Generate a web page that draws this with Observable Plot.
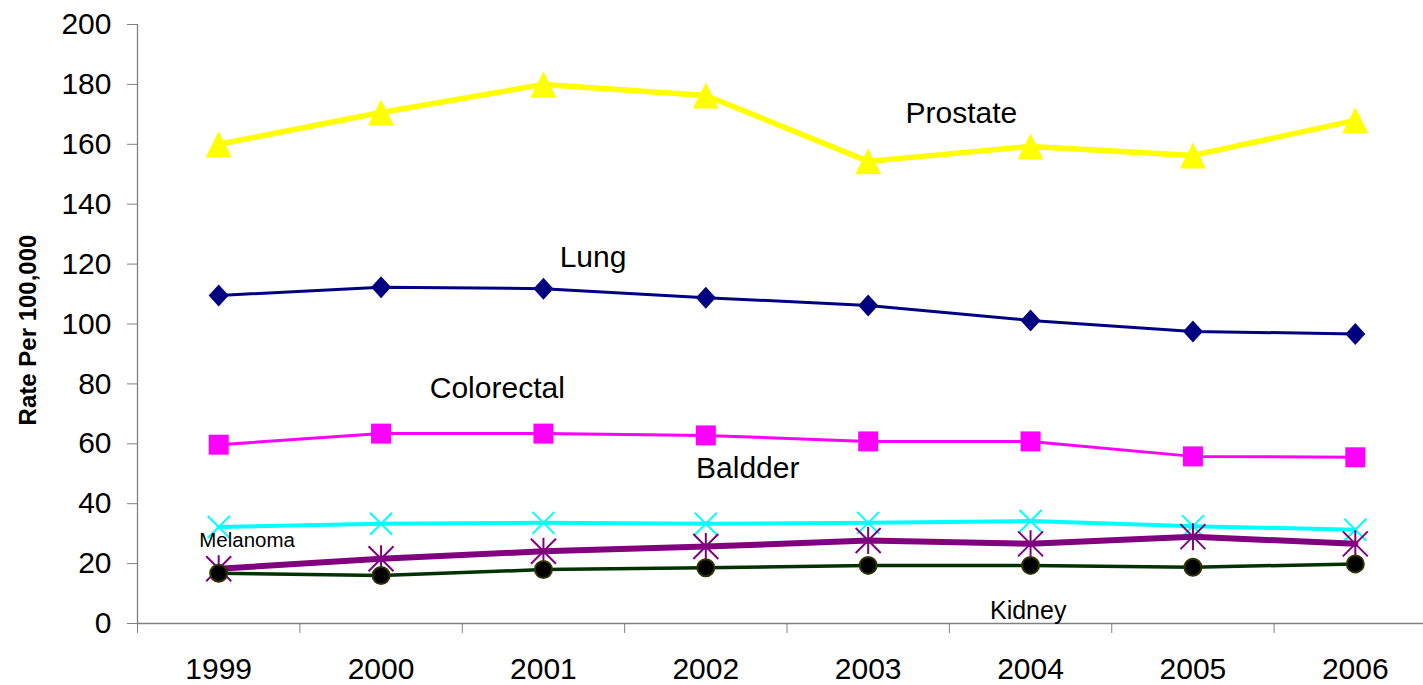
<!DOCTYPE html>
<html>
<head>
<meta charset="utf-8">
<script src="https://cdn.jsdelivr.net/npm/d3@7"></script>
<script src="https://cdn.jsdelivr.net/npm/@observablehq/plot@0.6"></script>
<style>
  html, body { margin: 0; padding: 0; background: #fff; }
  #chart svg { display: block; }
</style>
</head>
<body>
<div id="chart"></div>
<script>
// ---- data ----
const years = [1999, 2000, 2001, 2002, 2003, 2004, 2005, 2006];
const prostate   = [160.0, 170.6, 180.0, 176.3, 154.3, 159.3, 156.3, 168.0];
const lung       = [109.5, 112.3, 111.8, 108.8, 106.2, 101.2, 97.5, 96.7];
const colorectal = [59.7, 63.4, 63.4, 62.8, 60.8, 60.8, 55.8, 55.5];
const bladder    = [32.2, 33.3, 33.6, 33.3, 33.6, 34.2, 32.5, 31.3];
const melanoma   = [18.3, 21.6, 24.1, 25.7, 27.7, 26.6, 29.0, 26.6];
const kidney     = [16.8, 16.0, 18.0, 18.6, 19.4, 19.4, 18.8, 19.9];
const yTicks = [0, 20, 40, 60, 80, 100, 120, 140, 160, 180, 200];
const yTitle = "Rate Per 100,000";
// series labels (text, anchor year, anchor value)
const labelText  = ["Prostate", "Lung", "Colorectal", "Baldder", "Melanoma", "Kidney"];
const labelYear  = [2003.23, 2001.10, 2000.30, 2001.94, 1998.88, 2003.75];
const labelValue = [170.2, 122.4, 78.4, 51.9, 27.6, 4.3];

// ---- custom symbols ----
const symTriangle = { draw(ctx, size) { const h = Math.sqrt(size / Math.PI);
  ctx.moveTo(0, -h); ctx.lineTo(h, h); ctx.lineTo(-h, h); ctx.closePath(); } };
const symDiamond = { draw(ctx, size) { const h = Math.sqrt(size / Math.PI), w = h * 0.91;
  ctx.moveTo(0, -h); ctx.lineTo(w, 0); ctx.lineTo(0, h); ctx.lineTo(-w, 0); ctx.closePath(); } };
const symSquare = { draw(ctx, size) { const h = Math.sqrt(size / Math.PI);
  ctx.rect(-h, -h, 2 * h, 2 * h); } };
const symX = { draw(ctx, size) { const h = Math.sqrt(size / Math.PI);
  ctx.moveTo(-h, -h); ctx.lineTo(h, h); ctx.moveTo(-h, h); ctx.lineTo(h, -h); } };
const symStar = { draw(ctx, size) { const h = Math.sqrt(size / Math.PI), v = h * 1.08;
  ctx.moveTo(-h, -h); ctx.lineTo(h, h); ctx.moveTo(-h, h); ctx.lineTo(h, -h);
  ctx.moveTo(0, -v); ctx.lineTo(0, v); } };

const series = [
  {name: "Prostate",   values: prostate,   color: "#FFFF00", lw: 5.5, symbol: symTriangle, r: 13,  fill: "#FFFF00", stroke: "none", sw: 0},
  {name: "Lung",       values: lung,       color: "#000080", lw: 3,   symbol: symDiamond,  r: 11,  fill: "#000080", stroke: "none", sw: 0},
  {name: "Colorectal", values: colorectal, color: "#FF00FF", lw: 3,   symbol: symSquare,   r: 10,  fill: "#FF00FF", stroke: "none", sw: 0},
  {name: "Bladder",    values: bladder,    color: "#00FFFF", lw: 4,   symbol: symX,        r: 11,  fill: "none",    stroke: "#00FFFF", sw: 2},
  {name: "Melanoma",   values: melanoma,   color: "#800080", lw: 6,   symbol: symStar,     r: 12.5,fill: "none",    stroke: "#800080", sw: 2},
  {name: "Kidney",     values: kidney,     color: "#003300", lw: 3.5, symbol: "circle",    r: 8.5, fill: "#000000", stroke: "#333300", sw: 2}
];

const rows = series.flatMap(s => years.map((y, i) => ({series: s.name, year: y, value: s.values[i]})));
const labels = labelText.map((t, i) => ({text: t, year: labelYear[i], value: labelValue[i]}));
const boundaries = years.map(y => y - 0.5).concat([years[years.length - 1] + 0.5]);

const marks = [
  Plot.ruleY([0], {stroke: "#808080", strokeWidth: 1.3}),
  Plot.ruleX([boundaries[0]], {y1: 0, y2: 200, stroke: "#808080", strokeWidth: 1.3}),
  Plot.axisY({ticks: yTicks, tickSize: 10, tickPadding: 16, fontSize: 30, stroke: "#808080", fill: "#000", label: null}),
  Plot.axisX({ticks: boundaries, tickSize: 10, tickFormat: () => "", stroke: "#808080", label: null}),
  Plot.axisX({ticks: years, tickSize: 0, tickPadding: 34, fontSize: 30, fill: "#000", tickFormat: d => String(d), label: null}),
  Plot.text([yTitle], {x: () => boundaries[0], y: () => 98, text: d => d, rotate: -90, dx: -109,
    fontSize: 24, fontWeight: "bold", fill: "#000", textAnchor: "middle"})
];
for (const s of series) {
  const d = rows.filter(r => r.series === s.name);
  marks.push(Plot.line(d, {x: "year", y: "value", stroke: s.color, strokeWidth: s.lw, strokeLinejoin: "round"}));
  marks.push(Plot.dot(d, {x: "year", y: "value", symbol: s.symbol, r: s.r, fill: s.fill, stroke: s.stroke, strokeWidth: s.sw}));
}
marks.push(Plot.text(labels, {x: "year", y: "value", text: "text", textAnchor: "start",
  fontSize: (d) => d.text === "Melanoma" ? 20.5 : d.text === "Kidney" ? 25 : 30, fill: "#000"}));

const chart = Plot.plot({
  width: 1423,
  height: 685,
  marginLeft: 137,
  marginRight: 0,
  marginTop: 24,
  marginBottom: 62,
  x: {domain: [1998.5, 2006.5], range: [137, 1436]},
  y: {domain: [0, 200]},
  style: {fontFamily: "'Liberation Sans', Arial, sans-serif", background: "#fff", color: "#000"},
  marks
});
document.getElementById("chart").appendChild(chart);
</script>
</body>
</html>
